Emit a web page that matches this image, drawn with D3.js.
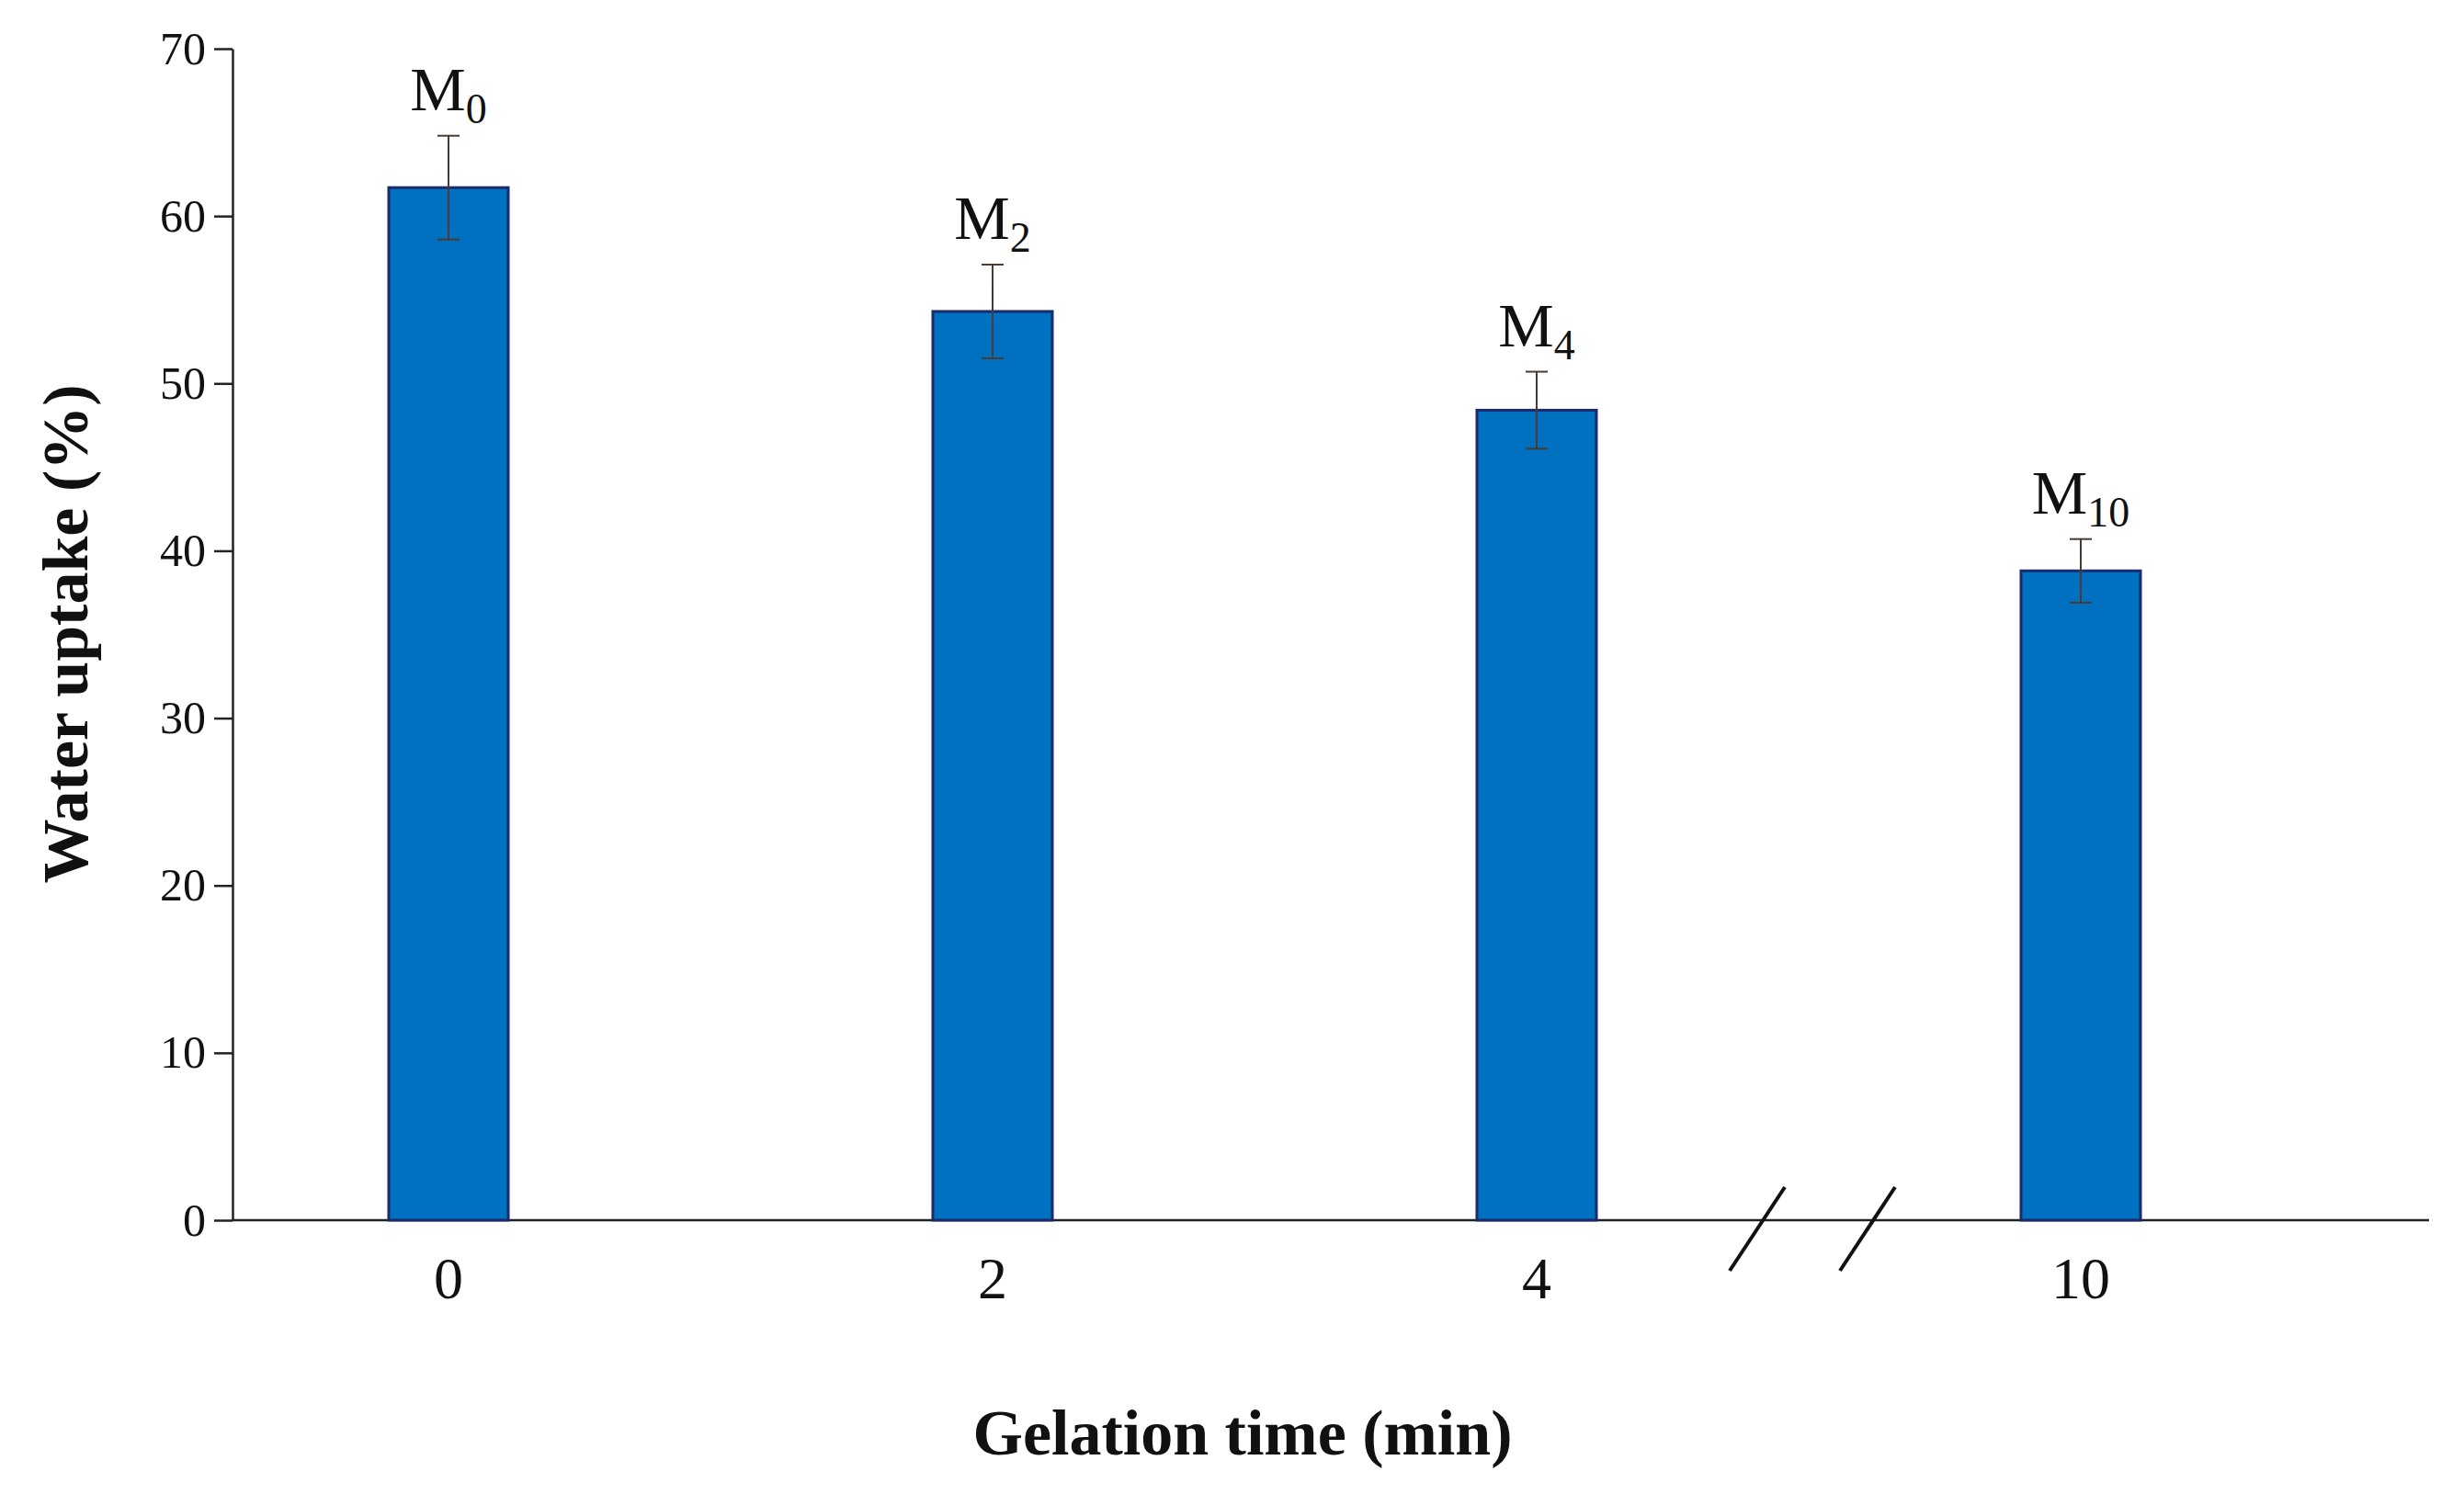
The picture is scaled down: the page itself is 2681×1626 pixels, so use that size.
<!DOCTYPE html><html><head><meta charset="utf-8"><script src="https://cdn.jsdelivr.net/npm/d3@7"></script>
<style>body{margin:0;background:#fff}</style></head><body><svg id="c" width="2681" height="1626"></svg><script>
const categories=["0","2","4","10"];
const labels=["0","2","4","10"];
const values=[61.7,54.3,48.4,38.8];
const errors=[3.1,2.8,2.3,1.9];
const yTicks=[0,10,20,30,40,50,60,70];
const svg=d3.select("#c");
const L=253,R=2643,T=53,B=1328;
const x=d3.scalePoint().domain(categories).range([488,2264]);
const y=d3.scaleLinear().domain([0,70]).range([B,T]);
const bw=130;
const f="'Liberation Serif','Times New Roman',serif";
const ya=svg.append("g").attr("transform",`translate(${L},0)`).call(d3.axisLeft(y).tickValues(yTicks).tickSize(20).tickSizeOuter(0));
ya.select(".domain").attr("stroke","#222").attr("stroke-width",2.5);
ya.selectAll(".tick line").attr("stroke","#222").attr("stroke-width",2.5);
ya.selectAll("text").attr("font-family",f).attr("font-size",50).attr("fill","#111").attr("dx",-6);
svg.append("line").attr("x1",L).attr("x2",R).attr("y1",B).attr("y2",B).attr("stroke","#222").attr("stroke-width",2.5);
svg.selectAll(".bar").data(values).enter().append("rect").attr("x",(d,i)=>x(categories[i])-bw/2).attr("width",bw)
 .attr("y",d=>y(d)).attr("height",d=>B-y(d)).attr("fill","#0070C0").attr("stroke","#1a2a6c").attr("stroke-width",3);
values.forEach((v,i)=>{const cx=x(categories[i]);const g=svg.append("g").attr("stroke","#4a3a30").attr("stroke-width",2);
 g.append("line").attr("x1",cx).attr("x2",cx).attr("y1",y(v+errors[i])).attr("y2",y(v-errors[i]));
 [v+errors[i],v-errors[i]].forEach(e=>g.append("line").attr("x1",cx-12).attr("x2",cx+12).attr("y1",y(e)).attr("y2",y(e)));
 const t=svg.append("text").attr("x",cx).attr("y",y(v+errors[i])-28).attr("text-anchor","middle").attr("font-family",f).attr("font-size",68).attr("fill","#111");
 t.append("tspan").text("M");t.append("tspan").attr("font-size",46).attr("dy",14).text(labels[i]);
 svg.append("text").attr("x",cx).attr("y",1413).attr("text-anchor","middle").attr("font-family",f).attr("font-size",64).attr("fill","#111").text(labels[i]);
});
[[1882,1942],[2002,2062]].forEach(([a,b])=>svg.append("line").attr("x1",a).attr("y1",1383).attr("x2",b).attr("y2",1292).attr("stroke","#111").attr("stroke-width",4));
svg.append("text").attr("x",1352).attr("y",1583).attr("text-anchor","middle").attr("font-family",f).attr("font-weight","bold").attr("font-size",70).attr("fill","#111").text("Gelation time (min)");
svg.append("text").attr("transform","translate(95,690) rotate(-90)").attr("text-anchor","middle").attr("font-family",f).attr("font-weight","bold").attr("font-size",70).attr("fill","#111").text("Water uptake (%)");
</script></body></html>
